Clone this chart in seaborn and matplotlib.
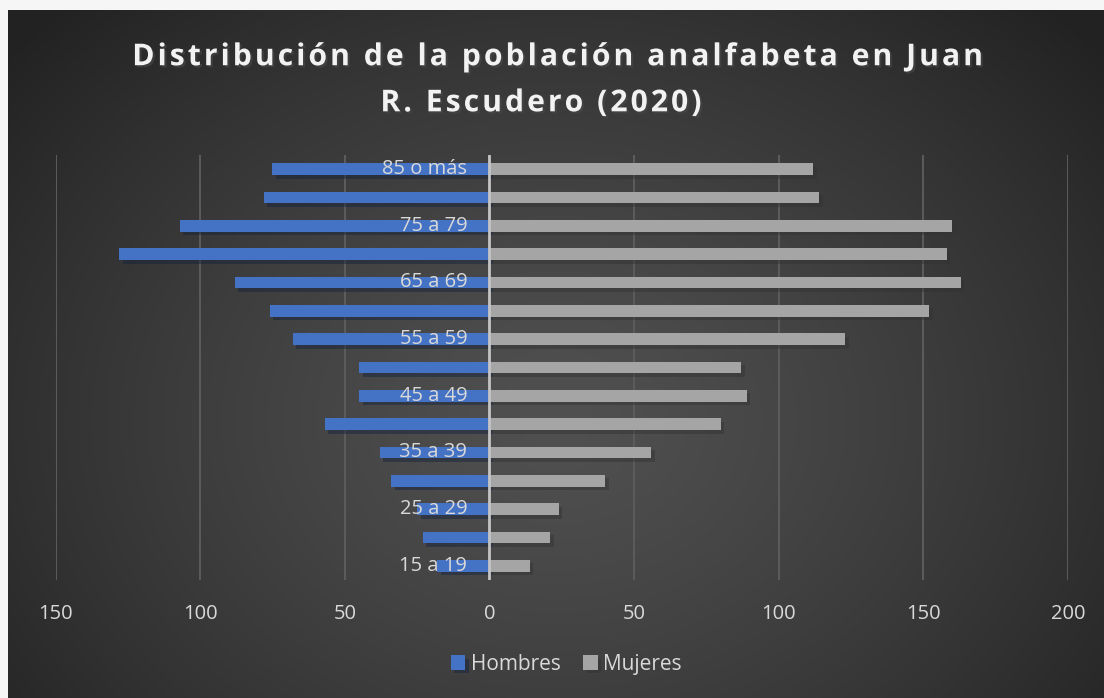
import numpy as np
import pandas as pd
import matplotlib
matplotlib.use("Agg")
import matplotlib.pyplot as plt
import matplotlib.patheffects as pe
from matplotlib.ticker import FuncFormatter
import seaborn as sns

# datos
grupos = ["85 o más", "80 a 84", "75 a 79", "70 a 74", "65 a 69", "60 a 64",
          "55 a 59", "50 a 54", "45 a 49", "40 a 44", "35 a 39", "30 a 34",
          "25 a 29", "20 a 24", "15 a 19"]
hombres = [75, 78, 107, 128, 88, 76, 68, 45, 45, 57, 38, 34, 25, 23, 18]
mujeres = [112, 114, 160, 158, 163, 152, 123, 87, 89, 80, 56, 40, 24, 21, 14]
ticks_x = [-150, -100, -50, 0, 50, 100, 150, 200]

titulo_1 = "Distribución de la población analfabeta en Juan"
titulo_2 = "R. Escudero (2020)"

azul = "#4472c4"
gris = "#a5a5a5"
texto = "#d9d9d9"
fuente = "Open Sans"

df = pd.DataFrame({
    "grupo": grupos + grupos,
    "valor": [-h for h in hombres] + mujeres,
    "sexo": ["Hombres"] * len(grupos) + ["Mujeres"] * len(grupos),
})

sns.set_style("white")
plt.rcParams["font.family"] = [fuente, "DejaVu Sans"]

fig = plt.figure(figsize=(11.04, 6.98), dpi=100, facecolor="#f6f6f6")

# fondo con degradado radial
bg = fig.add_axes([8 / 1104, 0, 1 - 8 / 1104, 1 - 10 / 698], zorder=-5)
yy, xx = np.mgrid[0:688, 0:1096]
r = np.sqrt((xx - 548) ** 2 + ((yy - 410) * 1.25) ** 2) / 720
r = np.clip(r, 0, 1)
c0, c1 = 0x50 / 255, 0x22 / 255
img = c0 + (c1 - c0) * r ** 1.3
bg.imshow(np.dstack([img, img, img]), aspect="auto", extent=[0, 1, 0, 1])
bg.axis("off")

ax = fig.add_axes([0.0503, 0.1691, 0.9171, 0.6089])
ax.set_facecolor("none")

sns.barplot(data=df, x="valor", y="grupo", hue="sexo", order=grupos,
            palette=[azul, gris], dodge=False, width=0.42, saturation=1,
            orient="h", ax=ax, zorder=3, edgecolor="none", linewidth=0)

for bar in ax.patches:
    bar.set_path_effects([pe.SimplePatchShadow(offset=(2.5, -2.5), alpha=0.45),
                          pe.Normal()])

ax.set_xlim(-150, 200)
ax.set_ylim(len(grupos) - 0.5, -0.5)
ax.set_xticks(ticks_x)
ax.xaxis.set_major_formatter(FuncFormatter(lambda v, p: f"{abs(v):.0f}"))
ax.set_yticks([])
ax.set_xlabel("")
ax.set_ylabel("")
ax.tick_params(axis="x", length=0, pad=17, labelsize=14.5, labelcolor=texto)
ax.grid(axis="x", color="#5c5c5c", lw=1.4, zorder=0)
ax.axvline(0, color="#c4c4c4", lw=2, zorder=4)
for s in ax.spines.values():
    s.set_visible(False)

# etiquetas de edad (una si, una no)
for i, g in enumerate(grupos):
    if i % 2 == 0:
        ax.annotate(g, xy=(0, i), xytext=(-16, 0), textcoords="offset points",
                    ha="right", va="center", fontsize=14.5, color=texto, zorder=5)

# leyenda
handles, labels = ax.get_legend_handles_labels()
ax.get_legend().remove()
leg = fig.legend(handles, labels, loc="center", bbox_to_anchor=(0.513, 0.048),
                 ncol=2, frameon=False, fontsize=15, handlelength=0.7,
                 handleheight=0.7, handletextpad=0.25, columnspacing=1.1)
for t in leg.get_texts():
    t.set_color(texto)

# titulo (con espaciado entre letras)
sombra = [pe.SimplePatchShadow(offset=(1.5, -1.5), alpha=0.6), pe.Normal()]
espacio = "\u200a"
fig.text(0.5045, 0.918, espacio.join(titulo_1), ha="center", va="center",
         fontsize=21.7, fontweight="bold", color="#f2f2f2", path_effects=sombra)
fig.text(0.490, 0.852, espacio.join(titulo_2), ha="center", va="center",
         fontsize=21.7, fontweight="bold", color="#f2f2f2", path_effects=sombra)

plt.savefig("out.png", dpi=100, facecolor=fig.get_facecolor())
